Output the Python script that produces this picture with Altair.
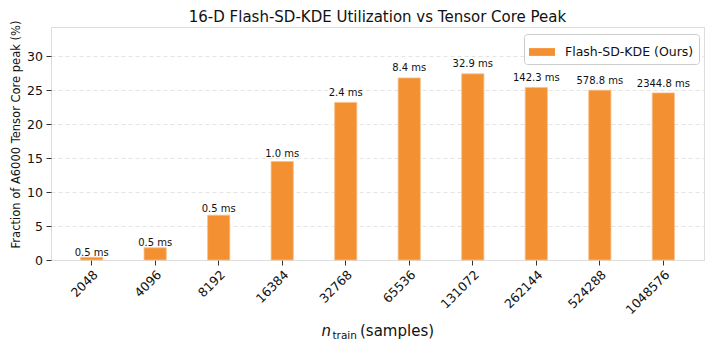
import altair as alt
import pandas as pd

n_train = ["2048", "4096", "8192", "16384", "32768", "65536", "131072", "262144", "524288", "1048576"]
util = [0.4, 1.8, 6.6, 14.5, 23.2, 26.8, 27.4, 25.4, 25.0, 24.6]
times = ["0.5 ms", "0.5 ms", "0.5 ms", "1.0 ms", "2.4 ms", "8.4 ms", "32.9 ms", "142.3 ms", "578.8 ms", "2344.8 ms"]
series_name = "Flash-SD-KDE (Ours)"
y_ticks = [0, 5, 10, 15, 20, 25, 30]
title_text = "16-D Flash-SD-KDE Utilization vs Tensor Core Peak"

BAR = "#f39132"
FONT = "DejaVu Sans"

df = pd.DataFrame({"n": n_train, "util": util, "time": times, "series": [series_name] * len(n_train)})

W, H = 653, 233

xscale = alt.Scale(paddingInner=0.65, paddingOuter=0.465)
xaxis = alt.Axis(
    title=None,
    labelAngle=-45,
    labelAlign="right",
    labelBaseline="top",
    labelFontSize=12.5,
    labelFont=FONT,
    labelColor="#111",
    labelPadding=3,
    labelOverlap=False,
    tickSize=5,
    tickColor="#333",
    domain=False,
    grid=False,
)
yscale = alt.Scale(domain=[0, 34.3], nice=False, zero=True)
yaxis = alt.Axis(
    title="Fraction of A6000 Tensor Core peak (%)",
    titleFont=FONT,
    titleFontSize=11.5,
    titleFontWeight="normal",
    titleColor="#111",
    titleAngle=270,
    titleAlign="center",
    titleBaseline="middle",
    titleX=-35,
    titleY=107,
    values=y_ticks,
    labelFontSize=12.5,
    labelFont=FONT,
    labelColor="#111",
    labelPadding=3.5,
    labelOverlap=False,
    tickSize=5,
    tickColor="#333",
    domain=False,
    grid=True,
    gridColor="#dddddd",
    gridDash=[4, 3],
    gridWidth=0.8,
)

bars = alt.Chart(df).mark_bar(stroke="#f8c08c", strokeWidth=0.8).encode(
    x=alt.X("n:N", sort=n_train, scale=xscale, axis=xaxis),
    y=alt.Y("util:Q", scale=yscale, axis=yaxis),
    color=alt.Color(
        "series:N",
        scale=alt.Scale(domain=[series_name], range=[BAR]),
        legend=alt.Legend(
            title=None,
            orient="none",
            legendX=473,
            legendY=7,
            symbolType="M-1,-0.3L1,-0.3L1,0.3L-1,0.3Z",
            symbolSize=676,
            symbolStrokeWidth=0,
            labelFont=FONT,
            labelFontSize=12.5,
            labelColor="#111",
            labelOffset=10,
            padding=5,
            strokeColor="#cccccc",
            fillColor="white",
            cornerRadius=3,
        ),
    ),
)

labels = alt.Chart(df).transform_calculate(
    ly="datum.util * 1.03 + 0.2"
).mark_text(baseline="alphabetic", align="center", font=FONT, fontSize=10, color="#111").encode(
    x=alt.X("n:N", sort=n_train, scale=xscale, axis=xaxis),
    y=alt.Y("ly:Q", scale=yscale, axis=yaxis),
    text="time:N",
)

title_mark = alt.Chart(pd.DataFrame({"t": [title_text]})).mark_text(
    align="center", baseline="alphabetic", font=FONT, fontSize=15, color="#111"
).encode(x=alt.value(W / 2), y=alt.value(-5.5), text="t:N")

xt_n = alt.Chart(pd.DataFrame({"t": ["n"]})).mark_text(
    align="left", baseline="alphabetic", font=FONT, fontSize=15, fontStyle="italic", color="#111"
).encode(x=alt.value(270.5), y=alt.value(309), text="t:N")
xt_sub = alt.Chart(pd.DataFrame({"t": ["train"]})).mark_text(
    align="left", baseline="alphabetic", font=FONT, fontSize=10.5, color="#111"
).encode(x=alt.value(281.5), y=alt.value(311.5), text="t:N")
xt_rest = alt.Chart(pd.DataFrame({"t": ["(samples)"]})).mark_text(
    align="left", baseline="alphabetic", font=FONT, fontSize=15, color="#111"
).encode(x=alt.value(309), y=alt.value(309), text="t:N")

chart = alt.layer(bars, labels, title_mark, xt_n, xt_sub, xt_rest).properties(
    width=W,
    height=H,
    autosize=alt.AutoSizeParams(type="none"),
    padding={"left": 43, "top": 19, "right": 2, "bottom": 80},
).configure_view(stroke="#333", strokeWidth=1).configure(background="white")

chart.save("out.html", embed_options={"renderer": "svg", "actions": False})
